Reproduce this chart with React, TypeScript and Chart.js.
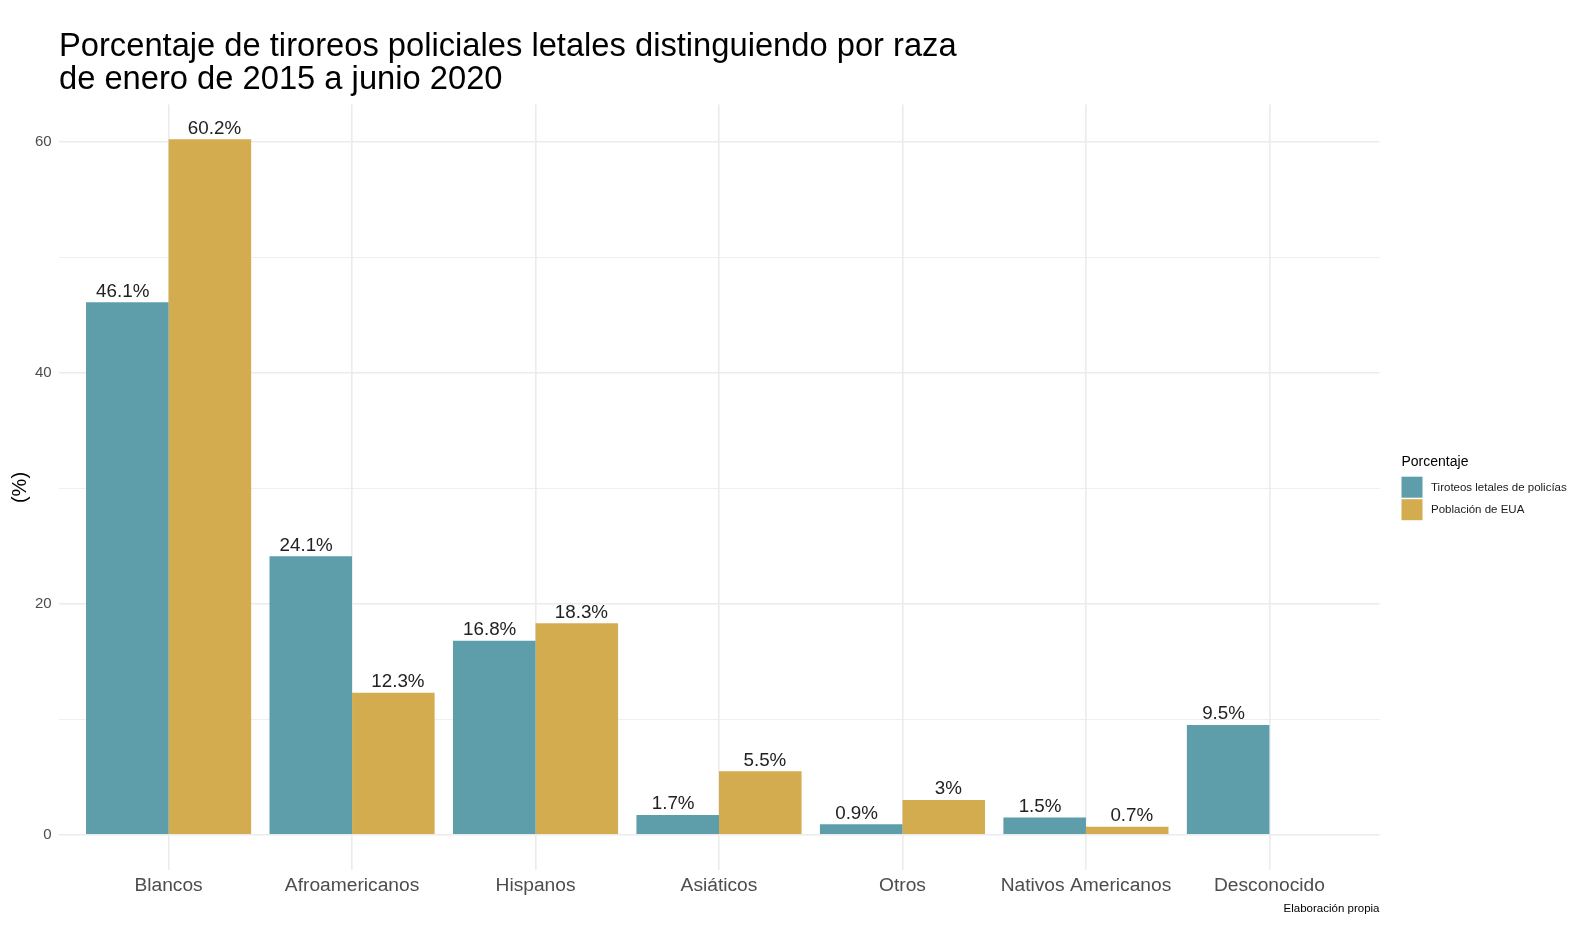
import React, { useEffect, useRef } from "react";
import { Chart, registerables } from "chart.js";

Chart.register(...registerables);

const categories = [
  "Blancos",
  "Afroamericanos",
  "Hispanos",
  "Asiáticos",
  "Otros",
  "Nativos Americanos",
  "Desconocido",
];
const tiroteos = [46.1, 24.1, 16.8, 1.7, 0.9, 1.5, 9.5];
const poblacion: (number | null)[] = [60.2, 12.3, 18.3, 5.5, 3, 0.7, null];
const seriesNames = ["Tiroteos letales de policías", "Población de EUA"];
const seriesColors = ["#5E9EAA", "#D3AC4F"];
const yTicks = [0, 10, 20, 30, 40, 50, 60];
const yLabeledTicks = [0, 20, 40, 60];
const titleLines = [
  "Porcentaje de tiroreos policiales letales distinguiendo por raza",
  "de enero de 2015 a junio 2020",
];
const yAxisTitle = "(%)";
const legendTitle = "Porcentaje";
const caption = "Elaboración propia";

const FONT = "'Liberation Sans', Arial, Helvetica, sans-serif";
const LABEL_DODGE = [-0.25, 0.25];

const annotate = {
  id: "annotate",
  afterDatasetsDraw(chart: any) {
    const ctx = chart.ctx;
    const xs = chart.scales.x;
    ctx.save();
    ctx.font = `18.8px ${FONT}`;
    ctx.fillStyle = "#222222";
    ctx.textAlign = "center";
    ctx.textBaseline = "alphabetic";
    const all = [tiroteos, poblacion];
    all.forEach((arr, di) => {
      const meta = chart.getDatasetMeta(di);
      meta.data.forEach((el: any, i: number) => {
        const v = arr[i];
        if (v === null || v === undefined) return;
        const x = xs.getPixelForValue(i + 1 + LABEL_DODGE[di]);
        ctx.fillText(`${v}%`, x, el.y - 5.6);
      });
    });
    ctx.restore();
  },
  afterDraw(chart: any) {
    const ctx = chart.ctx;
    const area = chart.chartArea;
    ctx.save();
    // title
    ctx.fillStyle = "#000000";
    ctx.textAlign = "left";
    ctx.textBaseline = "alphabetic";
    ctx.font = `32.7px ${FONT}`;
    ctx.fillText(titleLines[0], area.left + 0.5, 56);
    ctx.fillText(titleLines[1], area.left + 0.5, 89);

    // y axis title
    ctx.save();
    ctx.translate(20, 487.5);
    ctx.rotate(-Math.PI / 2);
    ctx.font = `20px ${FONT}`;
    ctx.textAlign = "center";
    ctx.textBaseline = "middle";
    ctx.fillText(yAxisTitle, 0, 0);
    ctx.restore();

    // legend
    const lx = 1401.5;
    ctx.font = `14px ${FONT}`;
    ctx.textAlign = "left";
    ctx.textBaseline = "alphabetic";
    ctx.fillStyle = "#000000";
    ctx.fillText(legendTitle, lx, 466);
    const keyY = [476.7, 499.2];
    seriesNames.forEach((name, i) => {
      ctx.fillStyle = seriesColors[i];
      ctx.fillRect(lx, keyY[i], 21, 21);
      ctx.fillStyle = "#1a1a1a";
      ctx.font = `11.5px ${FONT}`;
      ctx.textBaseline = "middle";
      ctx.fillText(name, 1431, keyY[i] + 10.8);
    });

    // caption
    ctx.font = `11.5px ${FONT}`;
    ctx.textAlign = "right";
    ctx.textBaseline = "alphabetic";
    ctx.fillStyle = "#000000";
    ctx.fillText(caption, area.right, 911.5);
    ctx.restore();
  },
};

export default function App() {
  const canvasRef = useRef<HTMLCanvasElement | null>(null);

  useEffect(() => {
    if (!canvasRef.current) return;
    const chart = new Chart(canvasRef.current, {
      type: "bar",
      data: {
        datasets: [
          {
            label: seriesNames[0],
            data: tiroteos.map((v, i) => ({ x: i + 1, y: v })),
            backgroundColor: seriesColors[0],
            borderWidth: 0,
          },
          {
            label: seriesNames[1],
            data: poblacion.map((v, i) => ({ x: i + 1, y: v })),
            backgroundColor: seriesColors[1],
            borderWidth: 0,
          },
        ],
      } as any,
      options: {
        animation: false,
        responsive: false,
        devicePixelRatio: 1,
        datasets: {
          bar: { categoryPercentage: 0.9, barPercentage: 1.0 },
        },
        layout: {
          padding: { left: 18.5, right: 200.5, top: 104.6, bottom: 36.5 },
        },
        plugins: {
          legend: { display: false },
          title: { display: false },
          tooltip: { enabled: false },
        },
        scales: {
          x: {
            type: "linear",
            min: 0.4,
            max: 7.6,
            offset: false,
            afterBuildTicks: (axis: any) => {
              axis.ticks = categories.map((_, i) => ({ value: i + 1 }));
            },
            afterFit: (axis: any) => {
              axis.height = 40;
            },
            border: { display: false },
            grid: {
              offset: false,
              color: "#ebebeb",
              lineWidth: 1.6,
              drawTicks: false,
            },
            ticks: {
              autoSkip: false,
              maxRotation: 0,
              minRotation: 0,
              padding: 5,
              color: "#4d4d4d",
              font: { family: FONT, size: 19.2 },
              callback: (value: any) => categories[Number(value) - 1] ?? "",
            },
          },
          y: {
            type: "linear",
            min: -3.01,
            max: 63.21,
            afterBuildTicks: (axis: any) => {
              axis.ticks = yTicks.map((v) => ({ value: v }));
            },
            afterFit: (axis: any) => {
              axis.width = 40;
            },
            border: { display: false },
            grid: {
              color: "#ebebeb",
              lineWidth: (c: any) =>
                c.tick && yLabeledTicks.includes(c.tick.value) ? 1.6 : 0.8,
              drawTicks: false,
            },
            ticks: {
              padding: 6.8,
              color: "#4d4d4d",
              font: { family: FONT, size: 15 },
              callback: (value: any) =>
                yLabeledTicks.includes(Number(value)) ? String(value) : "",
            },
          },
        },
      } as any,
      plugins: [annotate],
    });
    return () => chart.destroy();
  }, []);

  return (
    <div
      style={{
        position: "absolute",
        left: 0,
        top: 0,
        width: 1580,
        height: 946,
        background: "#ffffff",
      }}
    >
      <canvas
        ref={canvasRef}
        width={1580}
        height={946}
        style={{ display: "block", width: 1580, height: 946 }}
      />
    </div>
  );
}
